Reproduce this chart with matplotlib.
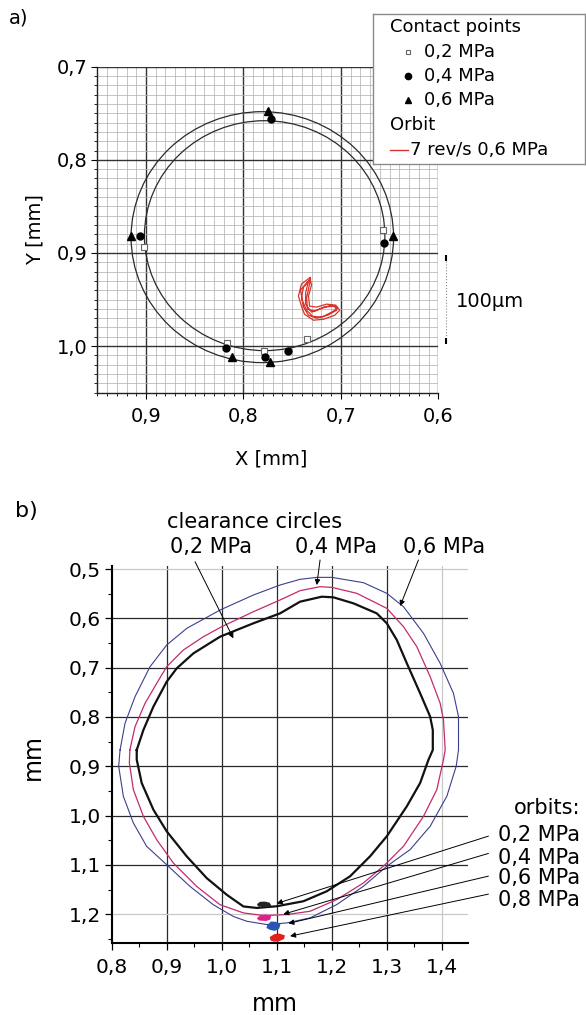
import matplotlib
matplotlib.use("Agg")
import matplotlib.pyplot as plt
from matplotlib.patches import Circle
from matplotlib.ticker import MultipleLocator

# ---------- panel a) data ----------
a_xticks = [0.9, 0.8, 0.7, 0.6]
a_xticklabels = ['0,9', '0,8', '0,7', '0,6']
a_yticks = [0.7, 0.8, 0.9, 1.0]
a_yticklabels = ['0,7', '0,8', '0,9', '1,0']

# clearance circles (center x, center y, radius)
a_outer_circle = (0.7806, 0.8830, 0.1347)
a_inner_circle = (0.7782, 0.8814, 0.1234)

# contact points
a_sq_x = [0.9024, 0.8169, 0.7790, 0.6569, 0.7352]
a_sq_y = [0.8934, 0.9967, 1.0056, 0.8754, 0.9919]
a_dot_x = [0.7714, 0.9066, 0.6556, 0.8180, 0.7783, 0.7541]
a_dot_y = [0.7557, 0.8819, 0.8891, 1.0024, 1.0113, 1.0056]
a_tri_x = [0.7748, 0.9155, 0.6466, 0.8117, 0.7728]
a_tri_y = [0.7478, 0.8823, 0.8823, 1.0121, 1.0171]

# orbit 7 rev/s 0,6 MPa
a_orbit_x = [0.7318, 0.7404, 0.7435, 0.7404, 0.7373, 0.7280, 0.7176, 0.7062, 0.7011, 0.7052,
             0.7145, 0.7249, 0.7321, 0.7332, 0.7301, 0.7318,
             0.7311, 0.7383, 0.7404, 0.7383, 0.7332, 0.7249, 0.7135, 0.7042, 0.7062, 0.7176,
             0.7270, 0.7342, 0.7352, 0.7332, 0.7311,
             0.7332, 0.7414, 0.7393, 0.7352, 0.7290, 0.7197, 0.7094, 0.7032, 0.7104, 0.7218,
             0.7301, 0.7362, 0.7362, 0.7332]
a_orbit_y = [0.9265, 0.9333, 0.9463, 0.9571, 0.9657, 0.9722, 0.9711, 0.9668, 0.9614, 0.9560,
             0.9549, 0.9581, 0.9571, 0.9463, 0.9344, 0.9265,
             0.9279, 0.9366, 0.9474, 0.9581, 0.9668, 0.9700, 0.9668, 0.9614, 0.9571, 0.9581,
             0.9625, 0.9603, 0.9484, 0.9387, 0.9279,
             0.9301, 0.9398, 0.9517, 0.9614, 0.9679, 0.9690, 0.9635, 0.9592, 0.9560, 0.9603,
             0.9635, 0.9549, 0.9430, 0.9301]

a_scalebar_x = 0.5925
a_scalebar_y = [0.905, 0.995]

# ---------- panel b) data ----------
b_xticks = [0.8, 0.9, 1.0, 1.1, 1.2, 1.3, 1.4]
b_xticklabels = ['0,8', '0,9', '1,0', '1,1', '1,2', '1,3', '1,4']
b_yticks = [0.5, 0.6, 0.7, 0.8, 0.9, 1.0, 1.1, 1.2]
b_yticklabels = ['0,5', '0,6', '0,7', '0,8', '0,9', '1,0', '1,1', '1,2']

b_black_x = [0.8455, 0.8576, 0.8758, 0.9000, 0.9182, 0.9485, 0.9970, 1.0576, 1.1060, 1.1424,
             1.1818, 1.2030, 1.2394, 1.2818, 1.3000, 1.3182, 1.3364, 1.3606, 1.3788, 1.3836,
             1.3836, 1.3758, 1.3606, 1.3364, 1.3000, 1.2697, 1.2333, 1.1909, 1.1485, 1.1000,
             1.0636, 1.0394, 1.0091, 0.9727, 0.9364, 0.9000, 0.8758, 0.8545, 0.8455, 0.8455]
b_black_y = [0.8669, 0.8264, 0.7790, 0.7284, 0.7014, 0.6710, 0.6372, 0.6100, 0.5899, 0.5662,
             0.5561, 0.5574, 0.5696, 0.5899, 0.6101, 0.6439, 0.6912, 0.7520, 0.7993, 0.8264,
             0.8669, 0.8865, 0.9338, 0.9811, 1.0419, 1.0824, 1.1230, 1.1534, 1.1736, 1.1838,
             1.1872, 1.1842, 1.1605, 1.1267, 1.0827, 1.0319, 0.9880, 0.9338, 0.8865, 0.8669]

b_magenta_x = [0.8330, 0.8424, 0.8606, 0.8818, 0.9000, 0.9303, 0.9667, 1.0000, 1.0576, 1.1060,
               1.1424, 1.1788, 1.2000, 1.2455, 1.3000, 1.3303, 1.3545, 1.3788, 1.3970, 1.4030,
               1.4061, 1.4030, 1.3909, 1.3667, 1.3303, 1.2970, 1.2576, 1.2091, 1.1606, 1.1182,
               1.0758, 1.0394, 0.9970, 0.9545, 0.9121, 0.8818, 0.8576, 0.8394, 0.8321, 0.8330]
b_magenta_y = [0.8669, 0.8196, 0.7723, 0.7318, 0.6980, 0.6642, 0.6372, 0.6169, 0.5865, 0.5628,
               0.5439, 0.5358, 0.5372, 0.5493, 0.5797, 0.6169, 0.6574, 0.7182, 0.7723, 0.8061,
               0.8669, 0.8865, 0.9473, 1.0014, 1.0622, 1.0993, 1.1365, 1.1703, 1.1939, 1.2007,
               1.2027, 1.1973, 1.1808, 1.1436, 1.0962, 1.0489, 1.0015, 0.9474, 0.8932, 0.8669]

b_blue_x = [0.8152, 0.8242, 0.8424, 0.8697, 0.9000, 0.9364, 0.9970, 1.0576, 1.1060, 1.1424,
            1.1727, 1.2000, 1.2576, 1.3000, 1.3303, 1.3667, 1.3970, 1.4212, 1.4303, 1.4303,
            1.4261, 1.4091, 1.3788, 1.3424, 1.3000, 1.2576, 1.2091, 1.1606, 1.1182, 1.0818,
            1.0455, 1.0212, 0.9848, 0.9424, 0.9000, 0.8636, 0.8394, 0.8212, 0.8127, 0.8152]
b_blue_y = [0.8669, 0.8128, 0.7588, 0.6980, 0.6540, 0.6203, 0.5831, 0.5527, 0.5324, 0.5209,
            0.5169, 0.5169, 0.5277, 0.5493, 0.5764, 0.6304, 0.6913, 0.7521, 0.7994, 0.8670,
            0.9000, 0.9608, 1.0216, 1.0689, 1.1027, 1.1432, 1.1804, 1.2074, 1.2176, 1.2209,
            1.2142, 1.2045, 1.1808, 1.1436, 1.0996, 1.0624, 1.0150, 0.9609, 0.9000, 0.8669]

# orbits (small blobs near the bottom)
b_orb02_x = [1.066, 1.070, 1.078, 1.086, 1.088, 1.082, 1.074, 1.067, 1.066]
b_orb02_y = [1.1800, 1.1765, 1.1760, 1.1780, 1.1815, 1.1840, 1.1835, 1.1825, 1.1800]
b_orb04_x = [1.066, 1.072, 1.080, 1.088, 1.087, 1.080, 1.074, 1.068, 1.066]
b_orb04_y = [1.2080, 1.2030, 1.2020, 1.2045, 1.2095, 1.2120, 1.2115, 1.2110, 1.2080]
b_orb06_x = [1.084, 1.090, 1.098, 1.105, 1.103, 1.096, 1.088, 1.083, 1.084]
b_orb06_y = [1.2230, 1.2165, 1.2170, 1.2215, 1.2280, 1.2320, 1.2300, 1.2270, 1.2230]
b_orb08_x = [1.089, 1.096, 1.105, 1.113, 1.112, 1.104, 1.095, 1.090, 1.089]
b_orb08_y = [1.2470, 1.2420, 1.2410, 1.2440, 1.2490, 1.2530, 1.2540, 1.2520, 1.2470]

clearance_labels = ['0,2 MPa', '0,4 MPa', '0,6 MPa']
clearance_label_x = [0.9805, 1.2070, 1.4042]
clearance_tips = [(1.0211, 0.6406), (1.1727, 0.5325), (1.3242, 0.5750)]
clearance_tails = [(0.9515, 0.4852), (1.1787, 0.4817), (1.3575, 0.4817)]

orbit_labels = ['0,2 MPa', '0,4 MPa', '0,6 MPa', '0,8 MPa']
orbit_label_y = [1.0517, 1.0984, 1.1389, 1.1836]
orbit_tips = [(1.1000, 1.1781), (1.1120, 1.2000), (1.1211, 1.2187), (1.1242, 1.2444)]
orbit_tails = [(1.4847, 1.0416), (1.4847, 1.0767), (1.4847, 1.1227), (1.4847, 1.1592)]

plt.rcParams['font.family'] = 'DejaVu Sans'

fig = plt.figure(figsize=(5.86, 10.15), dpi=100)

# ================= panel a =================
ax = fig.add_axes([0.1660, 0.6131, 0.5819, 0.3212])
ax.set_xlim(0.95, 0.6)
ax.set_ylim(1.05, 0.7)
ax.set_xticks(a_xticks)
ax.set_xticklabels(a_xticklabels)
ax.set_yticks(a_yticks)
ax.set_yticklabels(a_yticklabels)
ax.xaxis.set_minor_locator(MultipleLocator(0.01))
ax.yaxis.set_minor_locator(MultipleLocator(0.01))
ax.set_axisbelow(True)
ax.grid(which='minor', color='#b4b4b4', lw=0.55)
ax.grid(which='major', color='#333333', lw=1.0)
ax.tick_params(which='major', direction='out', length=4, width=0.8, labelsize=14, pad=3)
ax.tick_params(axis='x', which='major', pad=6)
ax.tick_params(which='minor', direction='out', length=2.5, width=0.6)
for s in ['top', 'right']:
    ax.spines[s].set_visible(False)
for s in ['left', 'bottom']:
    ax.spines[s].set_linewidth(1.0)
    ax.spines[s].set_color('#222222')

for cx, cy, r in [a_outer_circle, a_inner_circle]:
    ax.add_patch(Circle((cx, cy), r, fill=False, ec='#2b2b2b', lw=0.9, zorder=3))

ax.plot(a_orbit_x, a_orbit_y, color='#d9342b', lw=0.9, zorder=4)
ax.plot(a_sq_x, a_sq_y, 's', ms=4, mfc='white', mec='#666666', mew=0.8, zorder=5)
ax.plot(a_dot_x, a_dot_y, 'o', ms=5, color='black', zorder=5)
ax.plot(a_tri_x, a_tri_y, '^', ms=5.5, color='black', zorder=5)

# 100 um scale bar
ax.plot([a_scalebar_x, a_scalebar_x], a_scalebar_y, ':', color='#888888', lw=0.8, clip_on=False)
ax.plot([a_scalebar_x] * 2, a_scalebar_y, '|', color='black', ms=5, mew=1.5, clip_on=False)
ax.text(0.5822, 0.9517, '100µm', fontsize=14, ha='left', va='center', clip_on=False)

ax.set_xlabel('X [mm]', fontsize=14)
ax.set_ylabel('Y [mm]', fontsize=14)
ax.xaxis.set_label_coords(0.509, -0.173)
ax.yaxis.set_label_coords(-0.156, 0.5)

fig.text(0.015, 0.982, 'a)', fontsize=14, ha='left', va='center')

# legend box
leg = fig.add_axes([0.6365, 0.8384, 0.3618, 0.1478])
leg.set_xlim(0, 1)
leg.set_ylim(0, 1)
leg.set_xticks([])
leg.set_yticks([])
for s in leg.spines.values():
    s.set_color('#8a8a8a')
    s.set_linewidth(1.0)
leg.text(0.08, 0.915, 'Contact points', fontsize=13, va='center')
leg.plot([0.165], [0.749], 's', ms=3.5, mfc='white', mec='#666666', mew=0.8)
leg.text(0.241, 0.749, '0,2 MPa', fontsize=13, va='center')
leg.plot([0.165], [0.587], 'o', ms=4.5, color='black')
leg.text(0.241, 0.587, '0,4 MPa', fontsize=13, va='center')
leg.plot([0.165], [0.427], '^', ms=5, color='black')
leg.text(0.241, 0.427, '0,6 MPa', fontsize=13, va='center')
leg.text(0.08, 0.26, 'Orbit', fontsize=13, va='center')
leg.plot([0.08, 0.165], [0.093, 0.093], color='#d9342b', lw=1.0)
leg.text(0.175, 0.093, '7 rev/s 0,6 MPa', fontsize=13, va='center')

# ================= panel b =================
bx = fig.add_axes([0.1906, 0.0706, 0.6075, 0.3717])
bx.set_xlim(0.8, 1.447)
bx.set_ylim(1.259, 0.494)
bx.set_xticks(b_xticks)
bx.set_xticklabels(b_xticklabels)
bx.set_yticks(b_yticks)
bx.set_yticklabels(b_yticklabels)
bx.xaxis.set_minor_locator(MultipleLocator(0.05))
bx.yaxis.set_minor_locator(MultipleLocator(0.05))
bx.set_axisbelow(True)
bx.grid(which='major', color='#2a2a2a', lw=0.9)
for val, gl in zip(b_xticks, bx.get_xgridlines()):
    if val in (0.8, 1.4):
        gl.set_color('#c8c8c8')
for val, gl in zip(b_yticks, bx.get_ygridlines()):
    if val in (0.5, 1.2):
        gl.set_color('#c8c8c8')
bx.tick_params(which='major', direction='out', length=5, width=0.9, labelsize=14.5, pad=3)
bx.tick_params(axis='x', which='major', pad=5.5)
bx.tick_params(which='minor', direction='out', length=3, width=0.8)
for s in ['top', 'right']:
    bx.spines[s].set_visible(False)
for s in ['left', 'bottom']:
    bx.spines[s].set_linewidth(1.5)
    bx.spines[s].set_color('black')

bx.plot(b_blue_x, b_blue_y, color='#3b3f8f', lw=0.8, zorder=3)
bx.plot(b_magenta_x, b_magenta_y, color='#c42a6c', lw=0.9, zorder=3)
bx.plot(b_black_x, b_black_y, color='#111111', lw=1.6, zorder=3)

bx.fill(b_orb02_x, b_orb02_y, fc='#222222', ec='#222222', lw=1.2, zorder=4)
bx.fill(b_orb04_x, b_orb04_y, fc='#e0208a', ec='#e0208a', lw=1.2, zorder=4)
bx.fill(b_orb06_x, b_orb06_y, fc='#2a55b5', ec='#2a55b5', lw=1.2, zorder=4)
bx.fill(b_orb08_x, b_orb08_y, fc='#e02020', ec='#e02020', lw=1.2, zorder=4)

arrow_kw = dict(arrowstyle='-|>', color='black', lw=0.7, mutation_scale=8,
                shrinkA=0, shrinkB=0)

bx.text(1.0605, 0.4168, 'clearance circles', fontsize=15, ha='center', va='baseline',
        clip_on=False)
for lab, lx, tip, tail in zip(clearance_labels, clearance_label_x, clearance_tips, clearance_tails):
    bx.text(lx, 0.4675, lab, fontsize=15, ha='center', va='baseline', clip_on=False)
    bx.annotate('', xy=tip, xytext=tail, arrowprops=arrow_kw, annotation_clip=False)

bx.text(1.6515, 0.9970, 'orbits:', fontsize=15, ha='right', va='baseline', clip_on=False)
for lab, ly, tip, tail in zip(orbit_labels, orbit_label_y, orbit_tips, orbit_tails):
    bx.text(1.6515, ly, lab, fontsize=15, ha='right', va='baseline', clip_on=False)
    bx.annotate('', xy=tip, xytext=tail, arrowprops=arrow_kw, annotation_clip=False)

bx.set_xlabel('mm', fontsize=17)
bx.set_ylabel('mm', fontsize=17)
bx.xaxis.set_label_coords(0.459, -0.130)
bx.yaxis.set_label_coords(-0.187, 0.494)

fig.text(0.025, 0.497, 'b)', fontsize=16, ha='left', va='center')

fig.savefig('out.png', dpi=100)
